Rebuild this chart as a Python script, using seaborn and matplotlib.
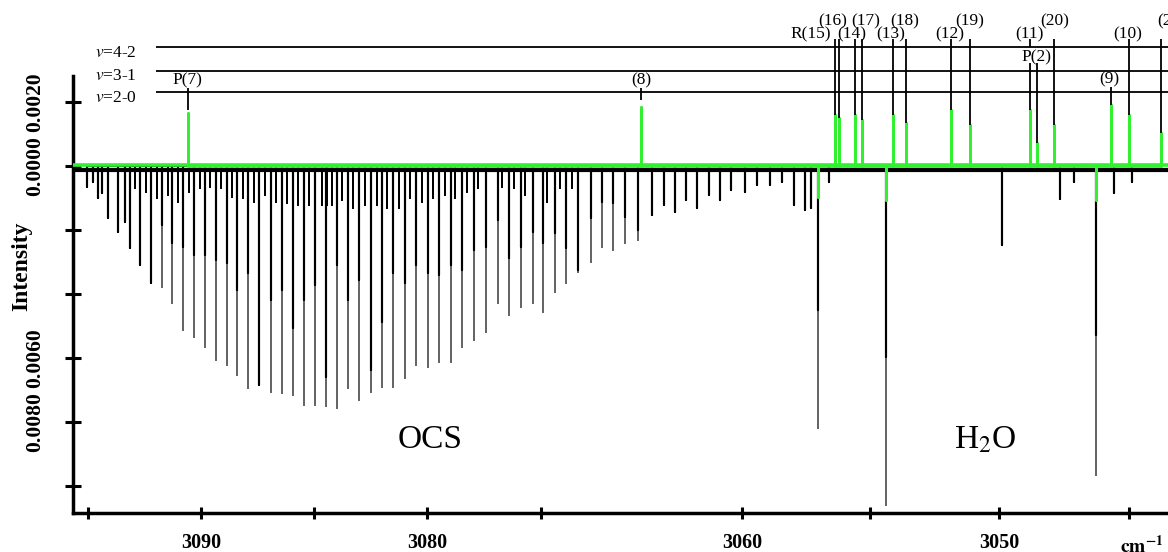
import numpy as np
import pandas as pd
import matplotlib
matplotlib.use("Agg")
import matplotlib.pyplot as plt
import seaborn as sns

# OCS absorption lines (black trace): position (cm-1), full depth, darker core depth
ocs_wn = [3095.06, 3094.78, 3094.57, 3094.38, 3094.12, 3093.67, 3093.36, 3093.14, 3092.70, 3092.21,
          3091.73, 3091.28, 3090.80, 3090.31, 3089.82, 3089.34, 3088.85, 3088.41, 3087.92, 3087.43,
          3086.90, 3086.42, 3085.93, 3085.44, 3084.96, 3084.47, 3083.98, 3083.50, 3083.01, 3082.48,
          3081.99, 3081.50, 3080.97, 3080.49, 3079.96, 3079.47, 3078.94, 3078.45, 3077.92, 3077.43,
          3076.90, 3076.42, 3075.88, 3075.35, 3074.85, 3073.96, 3073.13, 3072.24, 3071.27, 3070.45,
          3069.63, 3068.73, 3067.76, 3066.72, 3065.82, 3065.00, 3064.18, 3063.36, 3062.46, 3061.64,
          3060.82, 3059.88, 3059.42, 3058.91, 3058.45, 3057.95, 3057.52]
ocs_depth = [-0.00066, -0.00050, -0.00100, -0.00084, -0.00163, -0.00206, -0.00175, -0.00256, -0.00309, -0.00366,
             -0.00378, -0.00428, -0.00513, -0.00534, -0.00566, -0.00606, -0.00622, -0.00653, -0.00694, -0.00684,
             -0.00706, -0.00709, -0.00716, -0.00747, -0.00747, -0.00750, -0.00756, -0.00694, -0.00731, -0.00706,
             -0.00691, -0.00691, -0.00663, -0.00622, -0.00628, -0.00613, -0.00613, -0.00566, -0.00544, -0.00519,
             -0.00428, -0.00466, -0.00441, -0.00428, -0.00456, -0.00394, -0.00366, -0.00331, -0.00300, -0.00253,
             -0.00263, -0.00241, -0.00231, -0.00153, -0.00122, -0.00144, -0.00106, -0.00131, -0.00091, -0.00106,
             -0.00075, -0.00081, -0.00059, -0.00059, -0.00050, -0.00122, -0.00138]
ocs_core = [-0.00066, -0.00050, -0.00100, -0.00084, -0.00163, -0.00206, -0.00175, -0.00256, -0.00309, -0.00366,
            -0.00184, -0.00241, -0.00253, -0.00278, -0.00278, -0.00294, -0.00303, -0.00388, -0.00334, -0.00684,
            -0.00419, -0.00388, -0.00506, -0.00419, -0.00372, -0.00659, -0.00309, -0.00419, -0.00356, -0.00638,
            -0.00488, -0.00334, -0.00366, -0.00309, -0.00334, -0.00341, -0.00309, -0.00325, -0.00263, -0.00253,
            -0.00169, -0.00288, -0.00253, -0.00206, -0.00241, -0.00209, -0.00256, -0.00325, -0.00163, -0.00113,
            -0.00116, -0.00159, -0.00200, -0.00153, -0.00122, -0.00144, -0.00106, -0.00131, -0.00091, -0.00106,
            -0.00075, -0.00081, -0.00059, -0.00059, -0.00050, -0.00122, -0.00138]

# weak hot-band lines between the OCS lines
weak_wn = [3092.92, 3092.43, 3091.95, 3091.46, 3091.02, 3090.53, 3090.04, 3089.60, 3089.12, 3088.63,
           3088.14, 3087.65, 3087.17, 3086.68, 3086.19, 3085.71, 3085.22, 3084.65, 3084.42, 3084.20,
           3083.76, 3083.27, 3082.74, 3082.21, 3081.77, 3081.24, 3080.75, 3080.22, 3079.73, 3079.20,
           3078.76, 3078.23, 3077.74, 3076.73, 3076.19, 3075.71, 3074.55, 3073.58, 3072.69]
weak_depth = [-0.00069, -0.00081, -0.00100, -0.00091, -0.00113, -0.00081, -0.00069, -0.00066, -0.00069, -0.00097,
              -0.00100, -0.00113, -0.00091, -0.00113, -0.00116, -0.00122, -0.00122, -0.00122, -0.00122, -0.00122,
              -0.00106, -0.00131, -0.00122, -0.00122, -0.00131, -0.00131, -0.00100, -0.00113, -0.00100, -0.00091,
              -0.00100, -0.00081, -0.00069, -0.00066, -0.00069, -0.00091, -0.00113, -0.00069, -0.00069]

# H2O region lines (black trace)
h2o_wn = [3057.29, 3057.05, 3056.59, 3054.38, 3049.88, 3047.67, 3047.13, 3046.28, 3045.58, 3044.88]
h2o_depth = [-0.00131, -0.00819, -0.00050, -0.01059, -0.00247, -0.00103, -0.00050, -0.00966, -0.00084, -0.00050]
h2o_core = [-0.00131, -0.00450, -0.00050, -0.00597, -0.00247, -0.00103, -0.00050, -0.00528, -0.00084, -0.00050]

# green trace: emission-like peaks and dips
green_wn = [3090.58, 3067.54, 3057.05, 3056.36, 3056.20, 3055.58, 3055.31, 3054.38, 3054.11, 3053.60,
            3051.86, 3051.12, 3048.80, 3048.53, 3047.87, 3046.28, 3045.70, 3045.00, 3043.76]
green_height = [0.00166, 0.00184, -0.00097, 0.00159, 0.00150, 0.00159, 0.00144, -0.00106, 0.00159, 0.00134,
                0.00175, 0.00128, 0.00175, 0.00072, 0.00128, -0.00106, 0.00191, 0.00159, 0.00103]

# assignment markers
mark_wn = [3090.58, 3067.54, 3056.36, 3056.20, 3055.58, 3055.31, 3054.11, 3053.60, 3051.86, 3051.12,
           3048.80, 3048.80, 3048.53, 3047.87, 3045.70, 3045.00, 3043.76]
mark_top = [0.00244, 0.00244, 0.00397, 0.00397, 0.00397, 0.00397, 0.00397, 0.00397, 0.00397, 0.00397,
            0.00397, 0.00322, 0.00322, 0.00397, 0.00247, 0.00397, 0.00397]
mark_bottom = [0.00175, 0.00206, 0.00159, 0.00150, 0.00159, 0.00144, 0.00159, 0.00134, 0.00175, 0.00128,
               0.00372, 0.00175, 0.00072, 0.00128, 0.00191, 0.00159, 0.00103]

label_text = ["P(7)", "(8)", "R(15)", "(16)", "(14)", "(17)", "(13)", "(18)", "(12)", "(19)",
              "(11)", "(20)", "P(2)", "(9)", "(10)", "(21)"]
label_wn = [3090.58, 3067.54, 3057.33, 3056.47, 3055.70, 3055.16, 3054.19, 3053.64, 3051.90, 3051.12,
            3048.84, 3047.87, 3048.57, 3045.74, 3045.04, 3043.33]
label_y = [0.00269, 0.00269, 0.00413, 0.00453, 0.00413, 0.00453, 0.00413, 0.00453, 0.00413, 0.00453,
           0.00413, 0.00453, 0.00341, 0.00272, 0.00413, 0.00453]

band_names = ["4-2", "3-1", "2-0"]
band_y = [0.00372, 0.00297, 0.00231]
band_text_y = [0.00341, 0.00269, 0.00200]

# the printed axis is not uniform: anchor wavenumbers and their horizontal positions
axis_wn = [3040, 3045, 3050, 3055, 3060, 3075, 3080, 3085, 3090, 3095, 3100]
axis_pos = [-1258, -1129, -999, -870, -742, -541, -427, -314, -201, -88, 25]

xtick_wn = [3095, 3090, 3085, 3080, 3075, 3060, 3055, 3050, 3045]
xtick_labels = ["", "3090", "", "3080", "", "3060", "", "3050", ""]
ytick_vals = [0.002, 0.0, -0.002, -0.004, -0.006, -0.008, -0.010]
ytick_labels = ["0.0020", "0.0000", "", "", "0.0060", "0.0080", ""]

GREEN = "#30f030"


def sticks(wn, depth):
    xs, ys = [], []
    for w, d in zip(wn, depth):
        xs += [w, w, w]
        ys += [0.0, d, 0.0]
    return pd.DataFrame({"wn": xs, "intensity": ys})


def fwd(x):
    return np.interp(x, axis_wn, axis_pos)


def inv(p):
    return np.interp(p, axis_pos, axis_wn)


sns.set_theme(style="ticks")
plt.rcParams["font.family"] = ["Liberation Serif", "DejaVu Serif"]
plt.rcParams["mathtext.fontset"] = "stix"
plt.rcParams["text.color"] = "black"
plt.rcParams["axes.labelcolor"] = "black"

fig = plt.figure(figsize=(11.68, 5.52), dpi=100)
ax = fig.add_axes([0.0625, 0.0707, 0.9375, 0.9293])
ax.set_xscale("function", functions=(fwd, inv))

# black spectrum
ax.axhline(-0.00012, color="black", lw=3.0, zorder=1)
sns.lineplot(data=sticks(ocs_wn + h2o_wn, ocs_depth + h2o_depth), x="wn", y="intensity",
             sort=False, estimator=None, color="#666666", lw=1.2, ax=ax, zorder=2)
sns.lineplot(data=sticks(ocs_wn + h2o_wn, ocs_core + h2o_core), x="wn", y="intensity",
             sort=False, estimator=None, color="black", lw=1.5, ax=ax, zorder=3)
sns.lineplot(data=sticks(weak_wn, weak_depth), x="wn", y="intensity",
             sort=False, estimator=None, color="black", lw=1.2, ax=ax, zorder=3)

# green spectrum
ax.axhline(0.00002, color=GREEN, lw=2.6, zorder=4)
sns.lineplot(data=sticks(green_wn, green_height), x="wn", y="intensity",
             sort=False, estimator=None, color=GREEN, lw=2.0, ax=ax, zorder=5)

# vibrational band rows and assignments
ax.hlines(band_y, 3043.0, 3092.0, color="black", lw=1.3, zorder=6)
for name, ty in zip(band_names, band_text_y):
    ax.text(3092.83, ty, "$v$=" + name, ha="right", va="baseline", fontsize=12.5)
ax.vlines(mark_wn, mark_bottom, mark_top, color="black", lw=1.3, zorder=6)
for t, w, y in zip(label_text, label_wn, label_y):
    ax.text(w, y, t, ha="center", va="center", fontsize=12.5, clip_on=False)

ax.text(3079.87, -0.00856, "OCS", ha="center", va="center", fontsize=24)
ax.text(3050.54, -0.00856, "H$_2$O", ha="center", va="center", fontsize=24)

ax.set_xlim(3095.66, 3043.49)
ax.set_ylim(-0.01084, 0.00519)
sns.despine(ax=ax)
ax.spines["left"].set_bounds(-0.01084, 0.00281)
for side in ["left", "bottom"]:
    ax.spines[side].set_linewidth(2.5)
    ax.spines[side].set_color("black")

ax.set_xticks(xtick_wn, xtick_labels)
ax.xaxis.set_minor_locator(matplotlib.ticker.NullLocator())
ax.set_yticks(ytick_vals, ytick_labels)
ax.tick_params(axis="x", direction="inout", length=8.6, width=2.2, pad=10, labelsize=14.5, colors="black")
ax.tick_params(axis="y", direction="inout", length=11.5, width=2.2, pad=14, labelsize=15.5, colors="black")
plt.setp(ax.get_xticklabels(), fontweight="bold")
plt.setp(ax.get_yticklabels(), fontweight="bold", rotation=90, va="center")

ax.set_xlabel("")
ax.set_ylabel("Intensity", fontweight="bold", fontsize=17)
ax.yaxis.set_label_coords(-0.0374, 0.48)
fig.text(1120 / 1168, 0.01, r"$\mathbf{cm^{-1}}$", ha="left", va="center", fontsize=14)

fig.savefig("out.png", dpi=100)
